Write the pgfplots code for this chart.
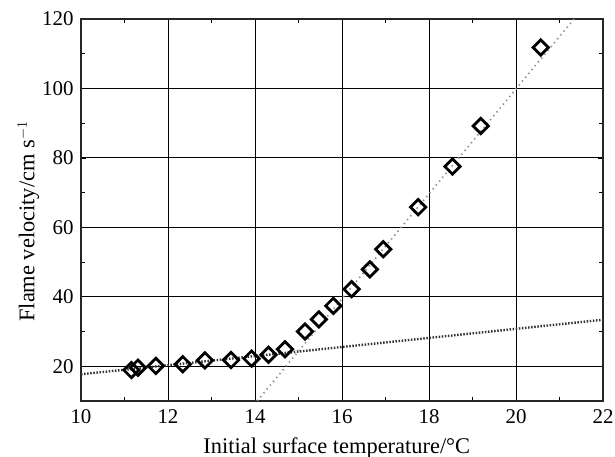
\documentclass[border=0pt]{standalone}
\usepackage{fontspec}
\setmainfont{Liberation Serif}
\usepackage{pgfplots}
\pgfplotsset{compat=1.18}

\begin{document}
\begin{tikzpicture}
\useasboundingbox (-81bp,-56bp) rectangle (534bp,401bp);
\begin{axis}[
  at={(0,0)}, anchor=south west,
  scale only axis,
  width=522bp, height=382bp,
  xmin=10, xmax=22, ymin=10, ymax=120,
  xtick={10,12,...,22}, ytick={20,40,...,120},
  minor xtick={11,13,...,21}, minor ytick={10,30,...,110},
  tick align=inside,
  major tick length=5bp, minor tick length=4bp,
  every tick/.style={black, line width=0.8bp},
  grid=major,
  major grid style={black, line width=0.9bp},
  axis line style={black!85, line width=1.3bp},
  /pgf/number format/assume math mode=true,
  tick label style={font=\fontsize{21}{24}\selectfont},
  xticklabel style={yshift=-5bp},
  yticklabel style={xshift=-4bp},
  label style={font=\fontsize{22.5}{26}\selectfont},
  xlabel={Initial surface temperature/°C},
  ylabel={Flame velocity/cm s$^{-1}$},
  xlabel style={at={(axis description cs:0.49,0)}, anchor=base, yshift=-52bp},
  ylabel style={at={(ticklabel cs:0.47)}, yshift=-4bp},
  clip=true,
]
% low-temperature regime fit
\addplot[draw=black!80, line width=2.4bp, dash pattern=on 1.5bp off 1.6bp]
  coordinates {(10,17.7) (22,33.4)};
% high-temperature regime fit
\addplot[draw=black!45, line width=1.7bp, dash pattern=on 1.3bp off 3.7bp]
  coordinates {(14.05,10) (21.4,121)};
% measured flame velocities
\addplot[only marks, mark=square, mark size=5.4bp,
  mark options={rotate=45, draw=black, line width=2.8bp, fill=none}]
  coordinates {
  (11.16,18.9) (11.31,19.6) (11.72,20.1) (12.34,20.6) (12.85,21.7)
  (13.45,21.8) (13.92,22.2) (14.31,23.3) (14.69,24.9) (15.15,30.0)
  (15.47,33.5) (15.80,37.4) (16.22,42.2) (16.64,47.9) (16.95,53.7)
  (17.75,65.8) (18.54,77.5) (19.19,89.2) (20.57,111.8)
  };
\end{axis}
\end{tikzpicture}
\end{document}
